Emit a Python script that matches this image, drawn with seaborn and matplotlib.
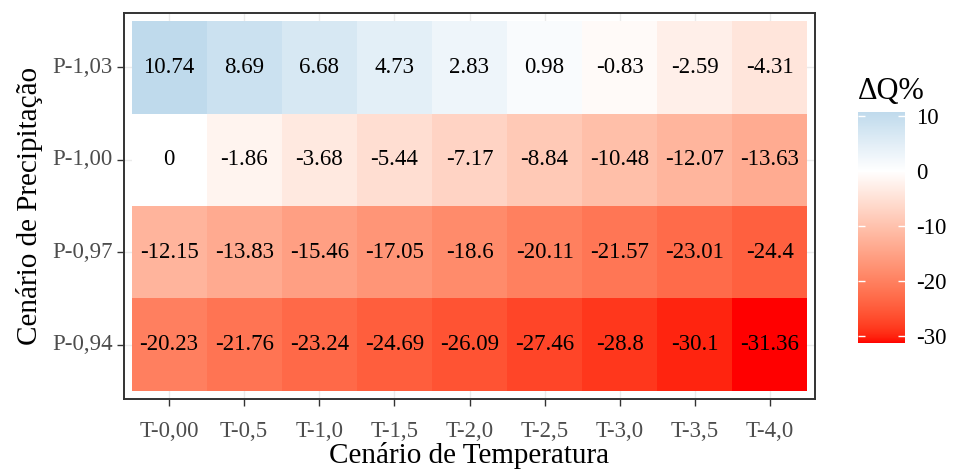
import numpy as np
import pandas as pd
import matplotlib
matplotlib.use("Agg")
import matplotlib.pyplot as plt
from matplotlib.colors import ListedColormap
import seaborn as sns

# ---- data ----
precip_scenarios = ["P-1,03", "P-1,00", "P-0,97", "P-0,94"]
temp_scenarios = ["T-0,00", "T-0,5", "T-1,0", "T-1,5", "T-2,0",
                  "T-2,5", "T-3,0", "T-3,5", "T-4,0"]
row_p103 = [10.74, 8.69, 6.68, 4.73, 2.83, 0.98, -0.83, -2.59, -4.31]
row_p100 = [0, -1.86, -3.68, -5.44, -7.17, -8.84, -10.48, -12.07, -13.63]
row_p097 = [-12.15, -13.83, -15.46, -17.05, -18.6, -20.11, -21.57, -23.01, -24.4]
row_p094 = [-20.23, -21.76, -23.24, -24.69, -26.09, -27.46, -28.8, -30.1, -31.36]
cbar_ticks = [10, 0, -10, -20, -30]

df = pd.DataFrame([row_p103, row_p100, row_p097, row_p094],
                  index=precip_scenarios, columns=temp_scenarios)
labels = df.map(lambda v: format(v, "g"))

# ---- colormap: Lab interpolation red -> white -> light blue ----
def srgb_to_lab(rgb):
    rgb = np.asarray(rgb, float)
    lin = np.where(rgb <= 0.04045, rgb / 12.92, ((rgb + 0.055) / 1.055) ** 2.4)
    M = np.array([[0.4124, 0.3576, 0.1805],
                  [0.2126, 0.7152, 0.0722],
                  [0.0193, 0.1192, 0.9505]])
    xyz = M @ lin / np.array([0.95047, 1.0, 1.08883])
    f = np.where(xyz > 0.008856, np.cbrt(xyz), 7.787 * xyz + 16 / 116)
    return np.array([116 * f[1] - 16, 500 * (f[0] - f[1]), 200 * (f[1] - f[2])])

def lab_to_srgb(lab):
    L, a, b = lab
    fy = (L + 16) / 116
    fx = fy + a / 500
    fz = fy - b / 200
    f = np.array([fx, fy, fz])
    xyz = np.where(f ** 3 > 0.008856, f ** 3, (f - 16 / 116) / 7.787)
    xyz = xyz * np.array([0.95047, 1.0, 1.08883])
    Minv = np.array([[3.2406, -1.5372, -0.4986],
                     [-0.9689, 1.8758, 0.0415],
                     [0.0557, -0.2040, 1.0570]])
    lin = Minv @ xyz
    lin = np.clip(lin, 0, 1)
    rgb = np.where(lin <= 0.0031308, 12.92 * lin, 1.055 * lin ** (1 / 2.4) - 0.055)
    return np.clip(rgb, 0, 1)

vmin, vmax = -31.36, 10.74
low_lab = srgb_to_lab([1, 0, 0])
mid_lab = srgb_to_lab([1, 1, 1])
top_lab = srgb_to_lab(np.array([0xBF, 0xDA, 0xEC]) / 255)
cols_list = []
for v in np.linspace(vmin, vmax, 512):
    if v <= 0:
        t = (v - vmin) / (0 - vmin)
        lab = low_lab + (mid_lab - low_lab) * t
    else:
        t = v / vmax
        lab = mid_lab + (top_lab - mid_lab) * t
    cols_list.append(lab_to_srgb(lab))
cmap = ListedColormap(cols_list)

# ---- figure ----
sns.set_theme(style="white")
plt.rcParams["font.family"] = ["Liberation Serif", "DejaVu Serif"]
plt.rcParams["axes.unicode_minus"] = False

fig = plt.figure(figsize=(9.54, 4.72), dpi=100)
ax = fig.add_axes([124 / 954, 1 - 399 / 472, 691 / 954, 386 / 472])
cax = fig.add_axes([858 / 954, 1 - 343 / 472, 47 / 954, 231 / 472])

sns.heatmap(df, ax=ax, cbar_ax=cax, cmap=cmap, vmin=vmin, vmax=vmax,
            annot=labels, fmt="", annot_kws={"fontsize": 16.5, "color": "black"},
            linewidths=0)

ax.set_xlim(-0.1, 9.1)
ax.set_ylim(4.09, -0.09)
for s in ax.spines.values():
    s.set_visible(True)
    s.set_color("#333333")
    s.set_linewidth(1.4)

ax.set_axisbelow(True)
ax.grid(True, color="#EBEBEB", linewidth=1.0)
ax.tick_params(axis="both", which="both", length=5, width=1, color="#333333",
               labelsize=16.5, labelcolor="#4D4D4D", pad=3, bottom=True, left=True)
ax.tick_params(axis="x", pad=11)
plt.setp(ax.get_yticklabels(), rotation=0)
plt.setp(ax.get_xticklabels(), rotation=0)
ax.set_xlabel("Cenário de Temperatura", fontsize=21, color="black", labelpad=0)
ax.set_ylabel("Cenário de Precipitação", fontsize=21, color="black", labelpad=7)

# colorbar styling
cbar = ax.collections[0].colorbar
cbar.outline.set_visible(False)
cbar.set_ticks(cbar_ticks)
cbar.ax.set_axisbelow(False)
cbar.ax.yaxis.set_ticks_position("both")
cbar.ax.tick_params(axis="y", direction="in", length=5, width=1, color="white",
                    labelsize=16.5, labelcolor="black", labelleft=False,
                    labelright=True, pad=8)
fig.text(858 / 954, 1 - 99 / 472, "ΔQ%", fontsize=22, ha="left", va="baseline",
         color="black")

fig.savefig("out.png", dpi=100)
